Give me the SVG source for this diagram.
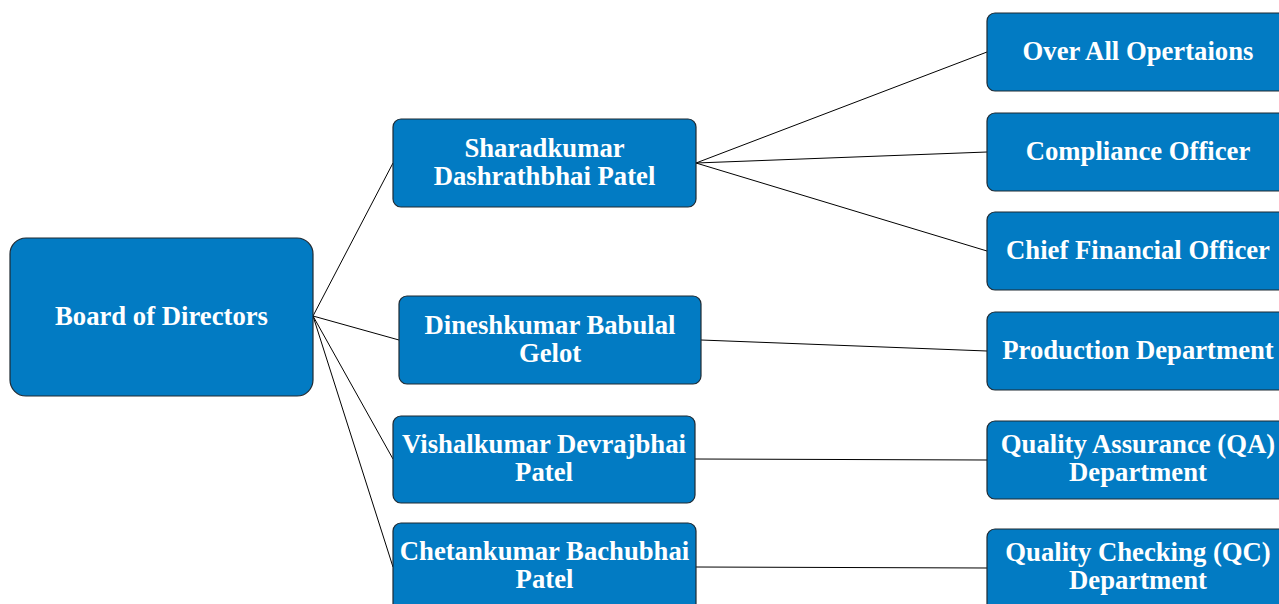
<svg xmlns="http://www.w3.org/2000/svg" width="1279" height="604" viewBox="0 0 1279 604">
<style>
.box{fill:#027BC3;stroke:#1f2a33;stroke-width:1.2}
.t{font-family:"Liberation Serif","Times New Roman",serif;font-weight:bold;font-size:26.7px;fill:#fff;text-anchor:middle}
.c{stroke:#000;stroke-width:1;fill:none}
</style>
<rect width="1279" height="604" fill="#fff"/>
<g id="connectors">
<line class="c" x1="313" y1="316" x2="393" y2="163"/>
<line class="c" x1="313" y1="316" x2="399" y2="340"/>
<line class="c" x1="313" y1="316" x2="393" y2="459"/>
<line class="c" x1="313" y1="316" x2="393" y2="567"/>
<line class="c" x1="696" y1="163" x2="987" y2="52"/>
<line class="c" x1="696" y1="163" x2="987" y2="152"/>
<line class="c" x1="696" y1="163" x2="987" y2="251"/>
<line class="c" x1="701" y1="340" x2="987" y2="351"/>
<line class="c" x1="695" y1="459" x2="987" y2="460"/>
<line class="c" x1="696" y1="567" x2="987" y2="568"/>
</g>
<g id="board"><rect class="box" x="10" y="238" width="303" height="158" rx="16"/><text class="t" x="161.5" y="325">Board of Directors</text></g>
<g id="sharad"><rect class="box" x="393" y="119" width="303" height="88" rx="8"/><text class="t" x="544.5" y="157">Sharadkumar</text><text class="t" x="544.5" y="185">Dashrathbhai Patel</text></g>
<g id="dinesh"><rect class="box" x="399" y="296" width="302" height="88" rx="8"/><text class="t" x="550" y="334">Dineshkumar Babulal</text><text class="t" x="550" y="362">Gelot</text></g>
<g id="vishal"><rect class="box" x="393" y="416" width="302" height="87" rx="8"/><text class="t" x="544" y="453">Vishalkumar Devrajbhai</text><text class="t" x="544" y="481">Patel</text></g>
<g id="chetan"><rect class="box" x="393" y="523" width="303" height="100" rx="8"/><text class="t" x="544.5" y="560">Chetankumar Bachubhai</text><text class="t" x="544.5" y="588">Patel</text></g>
<g id="overall"><rect class="box" x="987" y="13" width="310" height="78" rx="8"/><text class="t" x="1138" y="60">Over All Opertaions</text></g>
<g id="compliance"><rect class="box" x="987" y="113" width="310" height="78" rx="8"/><text class="t" x="1138" y="160">Compliance Officer</text></g>
<g id="cfo"><rect class="box" x="987" y="212" width="310" height="78" rx="8"/><text class="t" x="1138" y="259">Chief Financial Officer</text></g>
<g id="production"><rect class="box" x="987" y="312" width="310" height="78" rx="8"/><text class="t" x="1138" y="359">Production Department</text></g>
<g id="qa"><rect class="box" x="987" y="421" width="310" height="78" rx="8"/><text class="t" x="1138" y="453">Quality Assurance (QA)</text><text class="t" x="1138" y="481">Department</text></g>
<g id="qc"><rect class="box" x="987" y="529" width="310" height="90" rx="8"/><text class="t" x="1138" y="561">Quality Checking (QC)</text><text class="t" x="1138" y="589">Department</text></g>
</svg>
